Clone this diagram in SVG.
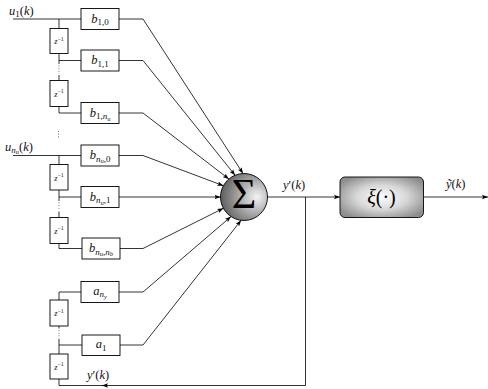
<svg xmlns="http://www.w3.org/2000/svg" width="488" height="389" viewBox="0 0 488 389">
<style>
.ln{fill:none;stroke:#000;stroke-width:0.8}
.dot{fill:none;stroke:#555;stroke-width:0.9;stroke-dasharray:0.9 1.8}
.box{fill:#fff;stroke:#000;stroke-width:0.9}
.t{font-family:"Liberation Serif","DejaVu Serif",serif;font-size:12.5px;fill:#111}
.m{font-style:italic}
.s{font-size:9px}
.ss{font-size:6.5px;font-style:italic}
.z{font-family:"Liberation Serif","DejaVu Serif",serif;font-size:8.5px;fill:#222}
</style>
<defs>
<marker id="ar" markerWidth="6" markerHeight="5" refX="6" refY="2.5" orient="auto" markerUnits="userSpaceOnUse">
<path d="M0,0.3 L6,2.5 L0,4.7 L1.2,2.5 z" fill="#000"/>
</marker>
<radialGradient id="gSum" cx="0.72" cy="0.5" r="0.8" fx="0.78" fy="0.5">
<stop offset="0" stop-color="#f4f4f4"/>
<stop offset="0.45" stop-color="#a9a9a9"/>
<stop offset="1" stop-color="#4e4e4e"/>
</radialGradient>
<radialGradient id="gXi" cx="0.5" cy="0.5" r="0.6">
<stop offset="0" stop-color="#fdfdfd"/>
<stop offset="0.5" stop-color="#d8d8d8"/>
<stop offset="1" stop-color="#8e8e8e"/>
</radialGradient>
</defs>

<g id="connectors">
<path class="ln" d="M13,19 H81"/>
<path class="ln" d="M59,19 V28.5"/>
<path class="ln" d="M59,53.5 V64 M59,60.5 H81"/>
<path class="dot" d="M59,65.5 V74"/>
<path class="ln" d="M59,75 V80.5"/>
<path class="ln" d="M59,106.5 V113 H81"/>
<path class="dot" d="M58.5,131 V138"/>
<path class="ln" d="M13,155.5 H81"/>
<path class="ln" d="M59,155.5 V164.5"/>
<path class="ln" d="M59,190 V201 M59,197 H81"/>
<path class="dot" d="M59,202.5 V210.5"/>
<path class="ln" d="M59,211.5 V217.5"/>
<path class="ln" d="M59,243.5 V248.5 H82"/>
<path class="ln" d="M81,292 H59 V300"/>
<path class="ln" d="M59,326 V328.5"/>
<path class="dot" d="M59,330 V338.5"/>
<path class="ln" d="M59,339 V354 M59,345 H82"/>
<path class="ln" d="M59,379 V385.5 H104"/>
<path class="ln" marker-end="url(#ar)" d="M119,19 H143 L243,173.5"/>
<path class="ln" marker-end="url(#ar)" d="M119,60.5 H143 L235.1,175.3"/>
<path class="ln" marker-end="url(#ar)" d="M119,113 H143 L228.9,179"/>
<path class="ln" marker-end="url(#ar)" d="M119,155.5 H143 L223.4,185.7"/>
<path class="ln" marker-end="url(#ar)" d="M119,197 H220.5"/>
<path class="ln" marker-end="url(#ar)" d="M120,248.5 H143 L223.4,208.3"/>
<path class="ln" marker-end="url(#ar)" d="M119,292 H143 L231,216.6"/>
<path class="ln" marker-end="url(#ar)" d="M120,345 H143 L241.1,220.3"/>
<path class="ln" marker-end="url(#ar)" d="M267.5,197 H340"/>
<path class="ln" marker-end="url(#ar)" d="M305.5,197 V385.5 H102"/>
<path class="ln" marker-end="url(#ar)" d="M423.5,197 H488"/>
</g>

<g id="b10"><rect class="box" x="81" y="8.5" width="38" height="21"/>
<text class="t" x="100" y="22.5" text-anchor="middle"><tspan class="m">b</tspan><tspan class="s" dy="2.5">1,0</tspan></text></g>
<g id="z1"><rect class="box" x="50" y="28.5" width="18" height="25"/>
<text class="z" x="59" y="44" text-anchor="middle"><tspan class="m">z</tspan><tspan font-size="6" dy="-3.5">−1</tspan></text></g>
<g id="b11"><rect class="box" x="81" y="50" width="38" height="21"/>
<text class="t" x="100" y="64" text-anchor="middle"><tspan class="m">b</tspan><tspan class="s" dy="2.5">1,1</tspan></text></g>
<g id="z2"><rect class="box" x="50" y="80.5" width="18" height="26"/>
<text class="z" x="59" y="96.5" text-anchor="middle"><tspan class="m">z</tspan><tspan font-size="6" dy="-3.5">−1</tspan></text></g>
<g id="b1nu"><rect class="box" x="81" y="102.5" width="38" height="21"/>
<text class="t" x="100" y="116.5" text-anchor="middle"><tspan class="m">b</tspan><tspan class="s" dy="2.5">1,</tspan><tspan class="s m">n</tspan><tspan class="ss" dy="1.5">u</tspan></text></g>

<g id="bnu0"><rect class="box" x="81" y="145" width="38" height="21"/>
<text class="t" x="100" y="159" text-anchor="middle"><tspan class="m">b</tspan><tspan class="s m" dy="2.5">n</tspan><tspan class="ss" dy="1.5">u</tspan><tspan class="s" dy="-1.5">,0</tspan></text></g>
<g id="z3"><rect class="box" x="50" y="164.5" width="18" height="25.5"/>
<text class="z" x="59" y="180.5" text-anchor="middle"><tspan class="m">z</tspan><tspan font-size="6" dy="-3.5">−1</tspan></text></g>
<g id="bnu1"><rect class="box" x="81" y="186.5" width="38" height="21"/>
<text class="t" x="100" y="200.5" text-anchor="middle"><tspan class="m">b</tspan><tspan class="s m" dy="2.5">n</tspan><tspan class="ss" dy="1.5">u</tspan><tspan class="s" dy="-1.5">,1</tspan></text></g>
<g id="z4"><rect class="box" x="50" y="217.5" width="18" height="26"/>
<text class="z" x="59" y="233.5" text-anchor="middle"><tspan class="m">z</tspan><tspan font-size="6" dy="-3.5">−1</tspan></text></g>
<g id="bnunb"><rect class="box" x="82" y="238" width="38" height="21"/>
<text class="t" x="101" y="252" text-anchor="middle"><tspan class="m">b</tspan><tspan class="s m" dy="2.5">n</tspan><tspan class="ss" dy="1.5">u</tspan><tspan class="s" dy="-1.5">,</tspan><tspan class="s m">n</tspan><tspan class="ss" dy="1.5">b</tspan></text></g>

<g id="any"><rect class="box" x="81" y="281.5" width="38" height="21"/>
<text class="t" x="100" y="294.5" text-anchor="middle"><tspan class="m">a</tspan><tspan class="s m" dy="2.5">n</tspan><tspan class="ss" dy="1.5">y</tspan></text></g>
<g id="z5"><rect class="box" x="50" y="300" width="18" height="26"/>
<text class="z" x="59" y="316" text-anchor="middle"><tspan class="m">z</tspan><tspan font-size="6" dy="-3.5">−1</tspan></text></g>
<g id="a1"><rect class="box" x="82" y="335" width="38" height="20.5"/>
<text class="t" x="101" y="348" text-anchor="middle"><tspan class="m">a</tspan><tspan class="s" dy="2.5">1</tspan></text></g>
<g id="z6"><rect class="box" x="50" y="354" width="18" height="25"/>
<text class="z" x="59" y="369.5" text-anchor="middle"><tspan class="m">z</tspan><tspan font-size="6" dy="-3.5">−1</tspan></text></g>

<g id="sum">
<circle cx="244" cy="197" r="23.5" fill="url(#gSum)" stroke="#000" stroke-width="0.9"/>
<text x="244" y="208" text-anchor="middle" font-family="Liberation Serif,DejaVu Serif,serif" font-size="42" fill="#000">Σ</text>
</g>

<g id="xi">
<rect x="340" y="177" width="83.5" height="40.5" rx="5" ry="5" fill="url(#gXi)" stroke="#000" stroke-width="0.9"/>
<text x="381.5" y="204" text-anchor="middle" font-family="Liberation Serif,DejaVu Serif,serif" font-size="20" fill="#000"><tspan font-style="italic">ξ</tspan>(·)</text>
</g>

<g id="labels">
<text class="t" x="9" y="15"><tspan class="m">u</tspan><tspan class="s" dy="2">1</tspan><tspan dy="-2">(</tspan><tspan class="m">k</tspan>)</text>
<text class="t" x="5" y="151"><tspan class="m">u</tspan><tspan class="s m" dy="2">n</tspan><tspan class="ss" dy="1.3">u</tspan><tspan dy="-3.3">(</tspan><tspan class="m">k</tspan>)</text>
<text class="t" x="283" y="188.5"><tspan class="m">y</tspan>′(<tspan class="m">k</tspan>)</text>
<text class="t" x="446" y="188"><tspan class="m">ỹ</tspan>(<tspan class="m">k</tspan>)</text>
<text class="t" x="87" y="378.5"><tspan class="m">y</tspan>′(<tspan class="m">k</tspan>)</text>
</g>
</svg>
